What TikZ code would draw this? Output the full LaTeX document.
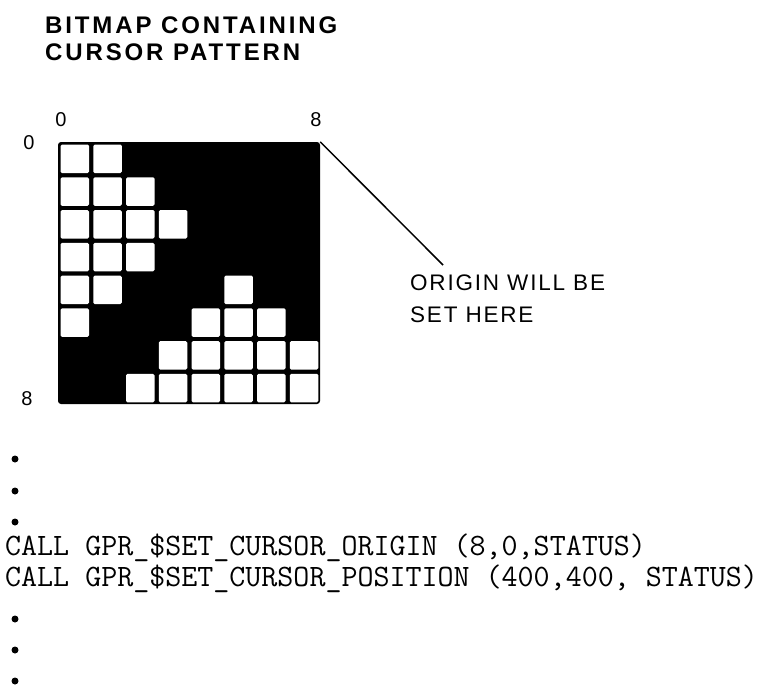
\documentclass[tikz,border=0pt]{standalone}
\usepackage{fontspec}
\setmainfont{Liberation Sans}
\newfontfamily\titlefont[LetterSpace=12]{Liberation Sans}
\newfontfamily\notefont[LetterSpace=8]{Liberation Sans}
\usetikzlibrary{positioning}

\begin{document}
\begin{tikzpicture}[x=1pt,y=-1pt,
 heading/.style={anchor=north west,align=left,inner sep=0pt,font=\titlefont\bfseries\fontsize{24}{27}\selectfont},
 bitmap/.style={fill=black,rounded corners=3pt,minimum size=262pt,inner sep=0pt},
 pixel/.style={fill=white,rounded corners=1.5pt},
 index/.style={inner sep=0pt,font=\fontsize{20}{24}\selectfont},
 note/.style={anchor=north west,align=left,inner sep=0pt,font=\notefont\fontsize{22.5}{32}\selectfont},
 leader/.style={black,line width=1.5pt},
 code/.style={anchor=base west,inner sep=0pt,font=\ttfamily\addfontfeature{FakeBold=6}\fontsize{31.1}{32}\selectfont},
 dot/.style={fill=black}]
\useasboundingbox (0,0) rectangle (760,685);
\node[heading] (title) at (45,17) {BITMAP CONTAINING\\CURSOR PATTERN};
\node[bitmap] (grid) at (189,273) {};
% white pixels of the cursor pattern, row by row
\foreach \row/\cols in {0/{0,1},1/{0,1,2},2/{0,1,2,3},3/{0,1,2},4/{0,1,5},5/{0,4,5,6},6/{3,4,5,6,7},7/{2,3,4,5,6,7}}
 \foreach \col in \cols
  \fill[pixel] (58+\col*32.75+2.5,142+\row*32.75+2.5) rectangle +(28.5,28.5);
\node[index] (colzero) at (61,120) {0};
\node[index] (coleight) at (316,120) {8};
\node[index] (rowzero) at (29,143) {0};
\node[index] (roweight) at (27,399) {8};
\node[note] (origin) at (410,275) {ORIGIN WILL BE\\SET HERE};
\coordinate (tip) at (443,265);
\draw[leader] (grid.north east) -- (tip);
\foreach \y in {459,491,522,619,650,681}
 \fill[dot] (15,\y) circle (3.5);
\node[code] (setorigin) at (5,555.5) {CALL GPR\_\$SET\_CURSOR\_ORIGIN (8,0,STATUS)};
\node[code] (setposition) at (5,586) {CALL GPR\_\$SET\_CURSOR\_POSITION (400,400, STATUS)};
\end{tikzpicture}
\end{document}
